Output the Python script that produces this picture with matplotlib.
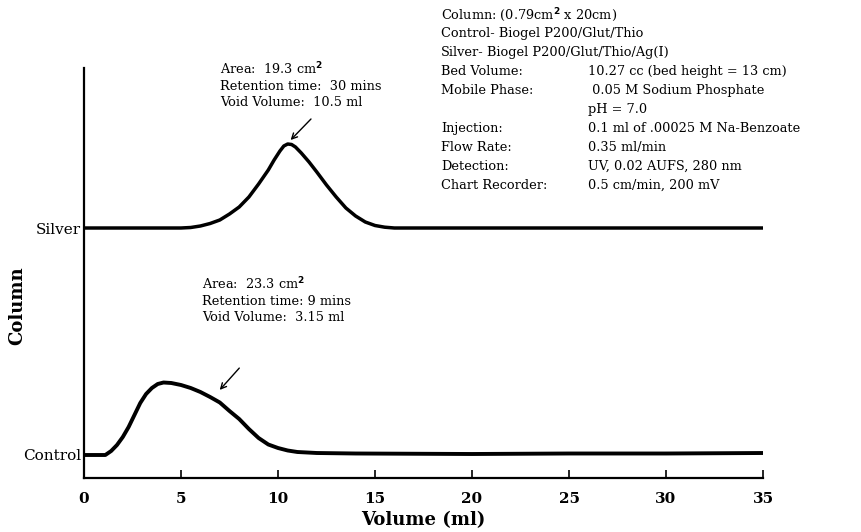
import matplotlib
matplotlib.use("Agg")
import matplotlib.pyplot as plt

plt.rcParams['font.family'] = ['DejaVu Serif']

# curves (signal above each baseline, arbitrary units)
control_vol = [0, 1.1, 1.4, 1.7, 2.0, 2.3, 2.6, 2.9, 3.2, 3.5, 3.8, 4.1, 4.5, 5.0,
               5.5, 6.0, 6.5, 7.0, 7.5, 8.0, 8.5, 9.0, 9.5, 10.0, 10.5, 11.0,
               12.0, 14, 20, 25, 30, 35]
control_sig = [0, 0, 4, 10, 18, 28, 40, 52, 61, 67, 71, 72.5, 72, 70,
               67, 63, 58, 52.5, 44, 36, 26, 17, 10.5, 7, 4.5, 3,
               2, 1.5, 1, 1.5, 1.5, 2]

silver_vol = [0, 5.0, 5.5, 6.0, 6.5, 7.0, 7.5, 8.0, 8.5, 9.0, 9.5, 9.8, 10.1,
              10.3, 10.5, 10.7, 10.9, 11.2, 11.6, 12.0, 12.5, 13.0, 13.5, 14.0,
              14.5, 15.0, 15.5, 16, 35]
silver_sig = [0, 0, 0.5, 2, 4.5, 8, 14, 21, 31, 44, 58, 68, 77,
              82, 84, 83.5, 81, 75, 66, 56, 43, 31, 20, 12,
              6, 2.5, 0.8, 0, 0]

baselines = [23, 250]
column_names = ['Control', 'Silver']
xticks = [0, 5, 10, 15, 20, 25, 30, 35]

info_labels = ['Bed Volume:', 'Mobile Phase:', '', 'Injection:', 'Flow Rate:',
               'Detection:', 'Chart Recorder:']
info_values = ['10.27 cc (bed height = 13 cm)', ' 0.05 M Sodium Phosphate',
               'pH = 7.0', '0.1 ml of .00025 M Na-Benzoate', '0.35 ml/min',
               'UV, 0.02 AUFS, 280 nm', '0.5 cm/min, 200 mV']

fs = 9.3

fig = plt.figure(figsize=(8.61, 5.32), dpi=100)
ax = fig.add_axes([84/861, 1 - 478/532, 679/861, 410/532])

ax.plot(control_vol, [s + baselines[0] for s in control_sig], color='black', lw=2.8,
        solid_joinstyle='round')
ax.plot(silver_vol, [s + baselines[1] for s in silver_sig], color='black', lw=2.5,
        solid_joinstyle='round')

ax.set_xlim(0, 35)
ax.set_ylim(0, 410)
for s in ['top', 'right']:
    ax.spines[s].set_visible(False)
for s in ['left', 'bottom']:
    ax.spines[s].set_linewidth(1.6)

ax.set_xticks(xticks)
ax.set_xticklabels([str(t) for t in xticks], fontsize=11, fontweight='bold')
ax.tick_params(axis='x', direction='in', length=6, width=1.2, pad=10)
ax.set_yticks(baselines)
ax.set_yticklabels(column_names, fontsize=11)
ax.tick_params(axis='y', length=0, pad=2)

ax.set_xlabel('Volume (ml)', fontsize=13, fontweight='bold', labelpad=4)
ax.set_ylabel('Column', fontsize=13, fontweight='bold')
ax.yaxis.set_label_coords(-0.085, 0.42)

# peak notes
ax.annotate('', xy=(10.55, 336), xytext=(11.8, 361),
            arrowprops=dict(arrowstyle='->', color='black', lw=1.0))
ax.text(7.0, 393, 'Area:  19.3 cm$^\\mathbf{2}$\nRetention time:  30 mins\nVoid Volume:  10.5 ml',
        fontsize=fs, va='center', linespacing=1.3)
ax.annotate('', xy=(6.9, 86), xytext=(8.1, 112),
            arrowprops=dict(arrowstyle='->', color='black', lw=1.0))
ax.text(6.1, 178, 'Area:  23.3 cm$^\\mathbf{2}$\nRetention time: 9 mins\nVoid Volume:  3.15 ml',
        fontsize=fs, va='center', linespacing=1.3)

# conditions block
y0, dy = 15, 18.9
fig.text(441/861, 1 - y0/532, 'Column: (0.79cm$^\\mathbf{2}$ x 20cm)', fontsize=fs, va='center')
fig.text(441/861, 1 - (y0 + dy)/532, 'Control- Biogel P200/Glut/Thio', fontsize=fs, va='center')
fig.text(441/861, 1 - (y0 + 2*dy)/532, 'Silver-', fontsize=fs, va='center')
fig.text(487/861, 1 - (y0 + 2*dy)/532, 'Biogel P200/Glut/Thio/Ag(I)', fontsize=fs, va='center')
for i, (lab, val) in enumerate(zip(info_labels, info_values)):
    yy = 1 - (y0 + (i + 3)*dy)/532
    fig.text(441/861, yy, lab, fontsize=fs, va='center')
    fig.text(588/861, yy, val, fontsize=fs, va='center')

fig.savefig('out.png', dpi=100)
